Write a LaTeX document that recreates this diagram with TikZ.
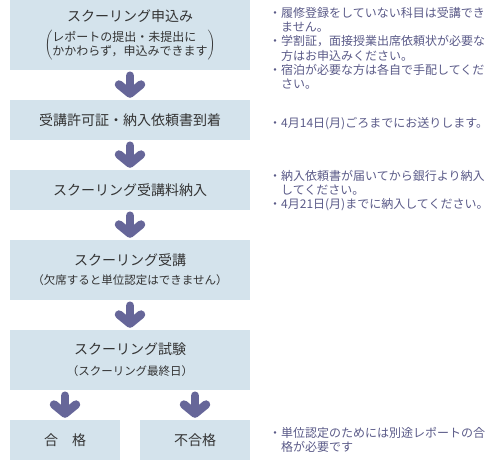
\documentclass[tikz,border=0pt]{standalone}
\usepackage{fontspec}
\setmainfont{Noto Sans CJK JP}
\usetikzlibrary{arrows.meta}
\definecolor{boxfill}{HTML}{D4E3EC}
\definecolor{arrowcol}{HTML}{666699}
\definecolor{notecol}{HTML}{5A5A88}
\definecolor{boxtext}{HTML}{333333}

\begin{document}
\begin{tikzpicture}[x=1pt, y=-1pt,
			stepbox/.style={fill=boxfill, inner sep=0pt, text=boxtext, align=center,
				minimum width=240pt, font=\fontsize{14}{16}\selectfont},
			smallbox/.style={stepbox, minimum width=110pt, minimum height=40pt},
			flow/.style={draw=arrowcol, line width=8.5pt, line cap=round,
				-{Straight Barb[round, length=9pt, width=22pt]},
				shorten <=5.5pt, shorten >=2pt},
			note/.style={anchor=base west, inner sep=0pt, text=notecol,
				font=\fontsize{12}{14}\selectfont}
			]
			\useasboundingbox (0,0) rectangle (490,460);
			
			% flow boxes
			\node[stepbox, minimum height=70pt] (apply) at (130,35) {スクーリング申込み\\[6pt]
				{\fontsize{12}{13}\selectfont$\left(\begin{tabular}{@{}l@{}}レポートの提出・未提出に\\かかわらず，申込みできます\end{tabular}\right)$}};
			\node[stepbox, minimum height=40pt] (permit) at (130,120) {受講許可証・納入依頼書到着};
			\node[stepbox, minimum height=40pt] (fee) at (130,190) {スクーリング受講料納入};
			\node[stepbox, minimum height=60pt] (lecture) at (130,270) {スクーリング受講\\[3pt]{\fontsize{11.5}{13}\selectfont （欠席すると単位認定はできません）}};
			\node[stepbox, minimum height=60pt] (exam) at (130,360) {スクーリング試験\\[5pt]{\fontsize{11.5}{13}\selectfont （スクーリング最終日）}};
			\node[smallbox] (pass) at (65,440) {合　格};
			\node[smallbox] (fail) at (195,440) {不合格};
			
			\draw[flow] (apply.south) -- (permit.north);
			\draw[flow] (permit.south) -- (fee.north);
			\draw[flow] (fee.south) -- (lecture.north);
			\draw[flow] (lecture.south) -- (exam.north);
			\draw[flow] (pass.north |- exam.south) -- (pass.north);
			\draw[flow] (fail.north |- exam.south) -- (fail.north);
			
			% notes on the right
			\node[note] (note1) at (269,17.5) {\begin{tabular}[t]{@{}l@{}l@{}}
					・&履修登録をしていない科目は受講でき\\&ません。\\
					・&学割証，面接授業出席依頼状が必要な\\&方はお申込みください。\\
					・&宿泊が必要な方は各自で手配してくだ\\&さい。\end{tabular}};
			\node[note] (note2) at (269,127.5) {\begin{tabular}[t]{@{}l@{}l@{}}
					・&4月14日(月)ごろまでにお送りします。\end{tabular}};
			\node[note] (note3) at (269,180) {\begin{tabular}[t]{@{}l@{}l@{}}
					・&納入依頼書が届いてから銀行より納入\\&してください。\\
					・&4月21日(月)までに納入してください。\end{tabular}};
			\node[note] (note4) at (269,437.5) {\begin{tabular}[t]{@{}l@{}l@{}}
					・&単位認定のためには別途レポートの合\\&格が必要です\end{tabular}};
		\end{tikzpicture}
\end{document}
